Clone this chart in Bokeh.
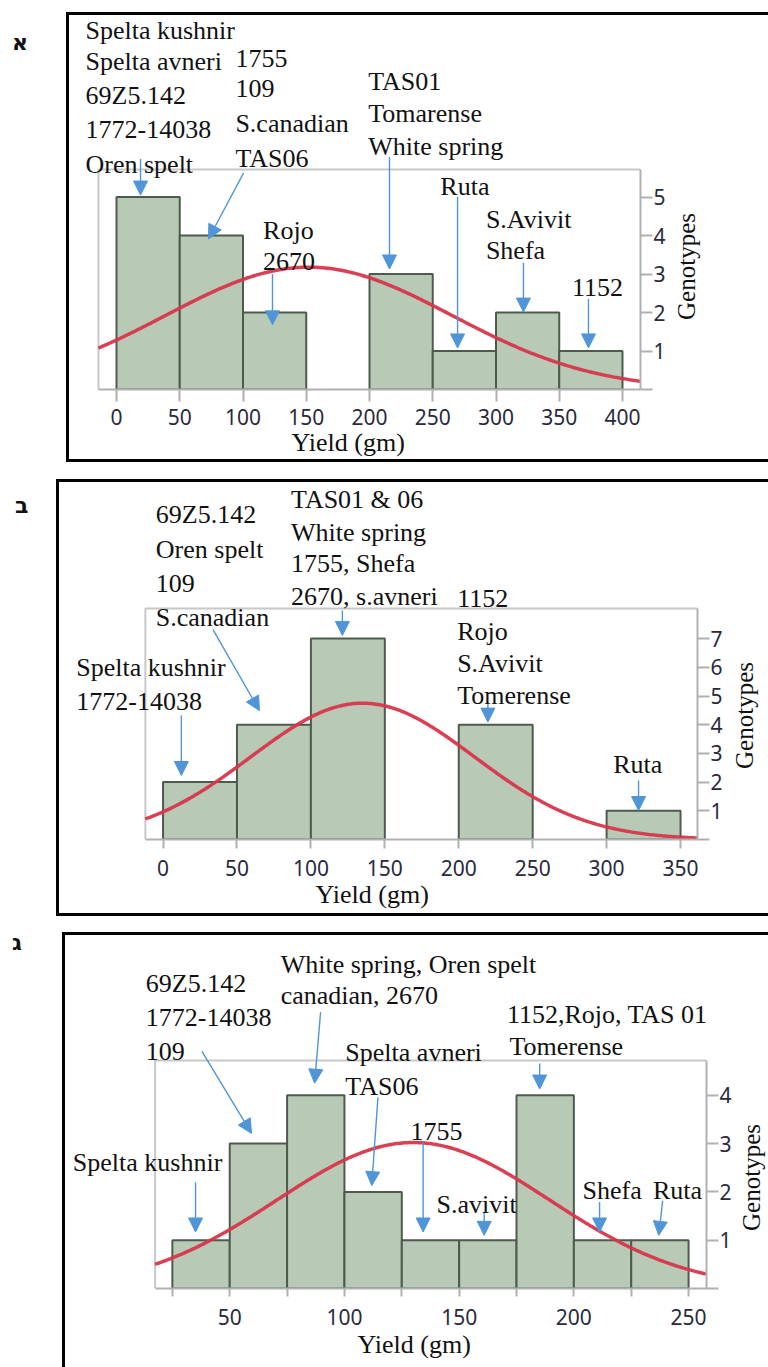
import numpy as np
from bokeh.plotting import figure
from bokeh.models import Label, Arrow, NormalHead, FixedTicker, Range1d, ColumnDataSource, Div, Title
from bokeh.layouts import column, row
from bokeh.embed import file_html
from bokeh.resources import INLINE

# ---------------- data ----------------
# Panel א
a_bin_edges = [0, 50, 100, 150, 200, 250, 300, 350, 400]
a_counts = [5, 4, 2, 0, 3, 1, 2, 1]
a_x_ticks = [0, 50, 100, 150, 200, 250, 300, 350, 400]
a_y_ticks = [0, 1, 2, 3, 4, 5]
a_fit_mean, a_fit_sd = 152.0, 113.0

# Panel ב
b_bin_edges = [0, 50, 100, 150, 200, 250, 300, 350]
b_counts = [2, 4, 7, 0, 4, 0, 1]
b_x_ticks = [0, 50, 100, 150, 200, 250, 300, 350]
b_y_ticks = [0, 1, 2, 3, 4, 5, 6, 7]
b_fit_mean, b_fit_sd = 135.0, 75.6

# Panel ג
g_bin_edges = [25, 50, 75, 100, 125, 150, 175, 200, 225, 250]
g_counts = [1, 3, 4, 2, 1, 1, 4, 1, 1]
g_x_ticks = [50, 100, 150, 200, 250]
g_x_minor_ticks = [25, 75, 125, 175, 225]
g_y_ticks = [0, 1, 2, 3, 4]
g_fit_mean, g_fit_sd = 130.0, 59.4

x_title = "Yield (gm)"
y_title = "Genotypes"

# genotype annotations: (text, x, y) in data units (text baseline)
a_notes = [
    ("Spelta kushnir", -24.5, 9.09), ("Spelta avneri", -24.5, 8.29), ("69Z5.142", -24.5, 7.39),
    ("1772-14038", -24.5, 6.51), ("Oren spelt", -24.5, 5.62),
    ("1755", 94.0, 8.37), ("109", 94.0, 7.58), ("S.canadian", 94.0, 6.68), ("TAS06", 94.0, 5.77),
    ("TAS01", 199.0, 7.77), ("Tomarense", 199.0, 6.94), ("White spring", 199.0, 6.09),
    ("Rojo", 115.9, 3.89), ("2670", 115.9, 3.09),
    ("Ruta", 256.0, 5.03),
    ("S.Avivit", 292.0, 4.19), ("Shefa", 292.0, 3.37),
    ("1152", 360.0, 2.42),
]
a_pointers = [
    (19.0, 5.99, 19.0, 5.05), (100.4, 5.62, 72.7, 3.91), (123.3, 3.00, 123.3, 1.68),
    (215.8, 6.04, 215.8, 3.13), (269.6, 5.00, 269.6, 1.08), (321.7, 3.29, 321.7, 2.01),
    (373.1, 2.35, 373.1, 1.08),
]

b_notes = [
    ("69Z5.142", -4.9, 11.02), ("Oren spelt", -4.9, 9.80), ("109", -4.9, 8.61), ("S.canadian", -4.9, 7.41),
    ("TAS01 & 06", 86.6, 11.52), ("White spring", 86.6, 10.39), ("1755, Shefa", 86.6, 9.29),
    ("2670, s.avneri", 86.6, 8.17),
    ("1152", 198.9, 8.09), ("Rojo", 198.9, 6.93), ("S.Avivit", 198.9, 5.83), ("Tomerense", 198.9, 4.72),
    ("Spelta kushnir", -58.7, 5.69), ("1772-14038", -58.7, 4.51),
    ("Ruta", 304.5, 2.31),
]
b_pointers = [
    (12.4, 4.32, 12.4, 2.23), (33.8, 7.31, 65.2, 4.49), (121.3, 7.98, 121.3, 7.11),
    (219.7, 4.73, 219.7, 4.09), (321.6, 2.06, 321.6, 1.01),
]

g_notes = [
    ("69Z5.142", 13.4, 6.13), ("1772-14038", 13.4, 5.42), ("109", 13.4, 4.72),
    ("White spring, Oren spelt", 72.2, 6.53), ("canadian,  2670", 72.2, 5.87),
    ("Spelta avneri", 100.4, 4.70), ("TAS06", 100.4, 3.99),
    ("1152,Rojo, TAS 01", 170.8, 5.49), ("Tomerense", 171.9, 4.83),
    ("1755", 128.8, 3.06),
    ("Spelta kushnir", -18.4, 2.42),
    ("S.avivit", 140.1, 1.56),
    ("Shefa", 203.8, 1.84), ("Ruta", 234.5, 1.84),
]
g_pointers = [
    (35.1, 2.20, 35.1, 1.17), (37.9, 4.91, 59.5, 3.21), (89.6, 5.72, 87.0, 4.25),
    (114.6, 3.96, 111.9, 2.13), (134.3, 3.03, 134.3, 1.17), (160.9, 1.58, 160.9, 1.10),
    (185.1, 4.66, 185.1, 4.13), (211.2, 1.79, 211.2, 1.17), (238.7, 1.82, 237.0, 1.10),
]

# ---------------- layout (page pixels) ----------------
PAGE_W, PAGE_H = 768, 1367
BW = 3             # panel box line width
NOTE_LIFT = 9      # screen-pixel correction of the label baselines
X_TITLE_HALF = 57  # half width of the x title text
panels = [
    dict(letter="א", edges=a_bin_edges, counts=a_counts, xt=a_x_ticks, xmt=None, yt=a_y_ticks,
         mean=a_fit_mean, sd=a_fit_sd, notes=a_notes, ptrs=a_pointers,
         row_top=0, row_h=468, box=(66, 12, 462), main_right=669,
         plot=(98, 640, 169, 389), x_cal=(116.0, 0.0, 1.265), y_ppu=38.5,
         tick_out_x=12, standoff_x=7, title_gap=1, letter_xy=(12, 32), xlab_x=348, ylab=(698, 266)),
    dict(letter="ב", edges=b_bin_edges, counts=b_counts, xt=b_x_ticks, xmt=None, yt=b_y_ticks,
         mean=b_fit_mean, sd=b_fit_sd, notes=b_notes, ptrs=b_pointers,
         row_top=468, row_h=454, box=(56, 479, 916), main_right=725,
         plot=(145, 698, 608, 839), x_cal=(162.7, 0.0, 1.4809), y_ppu=28.7,
         tick_out_x=9, standoff_x=11, title_gap=2, letter_xy=(15, 27), xlab_x=372, ylab=(757, 715)),
    dict(letter="ג", edges=g_bin_edges, counts=g_counts, xt=g_x_ticks, xmt=g_x_minor_ticks, yt=g_y_ticks,
         mean=g_fit_mean, sd=g_fit_sd, notes=g_notes, ptrs=g_pointers,
         row_top=922, row_h=445, box=(62, 932, None), main_right=734,
         plot=(155, 709, 1060, 1288), x_cal=(230.0, 50.0, 2.305), y_ppu=48.3,
         tick_out_x=8, standoff_x=12, title_gap=5, letter_xy=(12, 10), xlab_x=414, ylab=(761, 1177)),
]

SERIF = "Liberation Serif"
SANS = "Noto Sans"
BLUE = "#4f95d8"
TICK_GRAY = "#b0b0b0"
FRAME_GRAY = "#c8c8c8"
INK = "#000"
CAN_UNALIGN = "frame_align" in figure.properties()


def unalign(fig):
    if CAN_UNALIGN:
        fig.frame_align = False


def build(pn):
    bl, bt, bb = pn["box"]
    pl, pr, pt, pb = pn["plot"]
    x_px0, x_v0, x_ppu = pn["x_cal"]
    yppu = pn["y_ppu"]
    mr = pn["main_right"]

    def vx(px):
        return x_v0 + (px - x_px0) / x_ppu

    def vy(py):
        return (pb - py) / yppu

    c_left, c_top = bl + BW, bt + BW
    c_bottom = (bb - BW) if bb is not None else PAGE_H
    fig_h = c_bottom - c_top
    fig_w = mr - c_left
    m_top = c_top - pn["row_top"]
    m_bot = pn["row_top"] + pn["row_h"] - c_bottom

    x0, x1 = vx(c_left), vx(pr)
    x_left = vx(pl)
    y_top_plot = vy(pt)
    y_end = vy(c_top)

    p = figure(width=fig_w, height=fig_h, output_backend="svg", toolbar_location=None,
               x_range=Range1d(x0, x1), y_range=Range1d(0, y_end), y_axis_location="right",
               min_border_left=0, min_border_top=0,
               min_border_right=mr - pr, min_border_bottom=c_bottom - pb)
    unalign(p)
    p.background_fill_color = "white"
    p.border_fill_color = "white"
    p.outline_line_color = None
    p.grid.grid_line_color = None

    # axes
    if pn["xmt"] is not None:
        p.xaxis.ticker = FixedTicker(ticks=pn["xt"], minor_ticks=pn["xmt"])
        p.xaxis.minor_tick_out = pn["tick_out_x"]
        p.xaxis.minor_tick_in = 0
        p.xaxis.minor_tick_line_color = TICK_GRAY
        p.xaxis.minor_tick_line_width = 2
    else:
        p.xaxis.ticker = FixedTicker(ticks=pn["xt"])
        p.xaxis.minor_tick_line_color = None
    p.yaxis.ticker = FixedTicker(ticks=pn["yt"])
    p.yaxis.minor_tick_line_color = None
    p.yaxis.major_label_overrides = {0: ""}
    p.xaxis.bounds = (x_left, x1)
    p.yaxis.bounds = (0, y_top_plot)
    for ax in (p.xaxis, p.yaxis):
        ax.axis_line_color = TICK_GRAY
        ax.axis_line_width = 2
        ax.major_tick_line_color = TICK_GRAY
        ax.major_tick_line_width = 2
        ax.major_tick_in = 0
        ax.major_label_text_font = SANS
        ax.major_label_text_font_size = "21px"
        ax.major_label_text_color = "#2a2a3c"
    p.xaxis.major_tick_out = pn["tick_out_x"]
    p.xaxis.major_label_standoff = pn["standoff_x"]
    p.yaxis.major_tick_out = 12
    p.yaxis.major_label_standoff = 1

    # x title below the axis, at its place
    p.add_layout(Title(text=x_title, align="left", offset=pn["xlab_x"] - X_TITLE_HALF - c_left,
                       text_font=SERIF, text_font_size="26px", text_font_style="normal",
                       text_color="#111111", standoff=pn["title_gap"], vertical_align="top"), "below")

    # gray top and left edges of the plotting area
    p.line([x_left, x_left, x1], [0, y_top_plot, y_top_plot], line_color=FRAME_GRAY, line_width=2)

    # histogram bars
    edges, counts = pn["edges"], pn["counts"]
    keep = [i for i, c in enumerate(counts) if c > 0]
    src = ColumnDataSource(dict(left=[edges[i] for i in keep], right=[edges[i + 1] for i in keep],
                                top=[counts[i] for i in keep], bottom=[0] * len(keep)))
    p.quad(left="left", right="right", top="top", bottom="bottom", source=src,
           fill_color="#b8cab5", line_color="#4f5a4f", line_width=2)

    # normal fit curve
    n = sum(counts)
    bw = edges[1] - edges[0]
    xs = np.linspace(x_left, x1, 300)
    ys = n * bw * np.exp(-0.5 * ((xs - pn["mean"]) / pn["sd"]) ** 2) / (pn["sd"] * np.sqrt(2 * np.pi))
    p.line(xs, ys, line_color="#d8354b", line_width=3.5, line_alpha=0.95)

    # pointers
    for (xa, ya, xb, yb) in pn["ptrs"]:
        p.add_layout(Arrow(x_start=xa, y_start=ya, x_end=xb, y_end=yb, line_color=BLUE, line_width=1.4,
                           end=NormalHead(size=14, fill_color=BLUE, line_color=BLUE, line_width=1)))
    # genotype names
    for (t, xx, yy) in pn["notes"]:
        p.add_layout(Label(x=xx, y=yy, y_offset=NOTE_LIFT, text=t, text_font=SERIF, text_font_size="26px",
                           text_color="#111111", text_align="left", text_baseline="alphabetic"))

    # panel box lines drawn as shadows outside the figure (no effect on its size)
    sh = [f"-{BW}px 0 0 0 {INK}", f"0 -{BW}px 0 0 {INK}", f"-{BW}px -{BW}px 0 0 {INK}"]
    if bb is not None:
        sh += [f"0 {BW}px 0 0 {INK}", f"-{BW}px {BW}px 0 0 {INK}"]
    p.styles = {"box-shadow": ", ".join(sh)}
    p.margin = (m_top, 0, m_bot, 0)

    # right strip: its left axis carries the y title, centred at the wanted height
    sw = PAGE_W - mr
    gx, gy = pn["ylab"]
    t_pad = max(0, 2 * gy - c_top - c_bottom)
    b_pad = max(0, c_top + c_bottom - 2 * gy)
    s = figure(width=sw, height=fig_h, output_backend="svg", toolbar_location=None,
               x_range=Range1d(0, 1), y_range=Range1d(0, 1),
               x_axis_location=None, y_axis_location="left",
               min_border_left=gx - mr, min_border_right=0, min_border_top=t_pad, min_border_bottom=b_pad)
    unalign(s)
    s.outline_line_color = None
    s.grid.grid_line_color = None
    s.background_fill_color = "white"
    s.border_fill_color = "white"
    ya = s.yaxis[0]
    ya.ticker = FixedTicker(ticks=[])
    ya.axis_line_color = None
    ya.major_tick_line_color = None
    ya.minor_tick_line_color = None
    ya.major_tick_out = 0
    ya.minor_tick_out = 0
    ya.major_label_text_font_size = "0px"
    ya.major_label_standoff = 0
    ya.axis_label = y_title
    ya.axis_label_standoff = 0
    ya.axis_label_text_font = SERIF
    ya.axis_label_text_font_size = "25px"
    ya.axis_label_text_font_style = "normal"
    ya.axis_label_text_color = "#111111"
    sh2 = [f"0 -{BW}px 0 0 {INK}"]
    if bb is not None:
        sh2.append(f"0 {BW}px 0 0 {INK}")
    s.styles = {"box-shadow": ", ".join(sh2)}
    s.margin = (m_top, 0, m_bot, 0)

    lx, ly = pn["letter_xy"]
    letter = Div(text=f'<div style="position:relative; left:{lx}px; top:{ly}px; font-family:DejaVu Sans; '
                      f'font-size:22px; font-weight:bold; color:#111; line-height:1">{pn["letter"]}</div>',
                 width=c_left, height=pn["row_h"], margin=(0, 0, 0, 0))
    return row(letter, p, s, spacing=0)


rows = [build(pn) for pn in panels]
layout = column(*rows, spacing=0)
open("out.html", "w").write(file_html(layout, INLINE))
